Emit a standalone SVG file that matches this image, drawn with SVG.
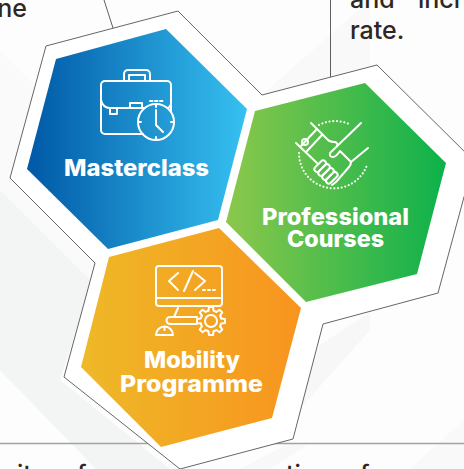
<svg xmlns="http://www.w3.org/2000/svg" xmlns:xlink="http://www.w3.org/1999/xlink" width="464" height="469" viewBox="0 0 464 469">
<style>
.lbl{font-family:"Inter","Liberation Sans",sans-serif;font-weight:800;font-size:23px;fill:#fff}
.body{font-family:"Inter","Liberation Sans",sans-serif;font-weight:500;font-size:25px;fill:#2e2723}
.ic{fill:none;stroke:#fff;stroke-width:2;stroke-linecap:round;stroke-linejoin:round}
.dot{fill:none;stroke:#fff;stroke-width:2.1;stroke-linecap:round;stroke-dasharray:.1 3.6}
.cn{fill:none;stroke:#5f5f5f;stroke-width:1}
</style>
<defs>
<linearGradient id="gb" x1="0" x2="1" y1="0" y2="0"><stop offset="0" stop-color="#0058a6"/><stop offset="1" stop-color="#36c1f1"/></linearGradient>
<linearGradient id="gg" x1="0" x2="1" y1="0" y2="0"><stop offset="0" stop-color="#8cc84b"/><stop offset="1" stop-color="#0db14b"/></linearGradient>
<linearGradient id="go" x1="0" x2="1" y1="0" y2="0"><stop offset="0" stop-color="#eeb927"/><stop offset="1" stop-color="#f8941f"/></linearGradient>
<path id="tooth" d="M-2.6,-10.2 L-2,-14 H2 L2.6,-10.2 A10.5,10.5 0 0 1 5.37,-9.05"/>
</defs>
<g id="background">
<rect width="464" height="469" fill="#fdfdfd"/>
<polygon points="0,50 100,150 100,290 0,190" fill="#fafafa"/>
<polygon points="0,190 92,282 60,380 170,469 96,469 0,370" fill="#f3f4f4"/>
<polygon points="262,95 330,35 370,0 370,66 330,77" fill="#f9f9f9"/>
<polygon points="320,345 370,312 370,330 290,420" fill="#f7f7f7"/>
<polygon points="410,469 464,420 464,469" fill="#f9f9f9"/>
<polygon points="240,469 290,443 310,443 270,469" fill="#f8f8f8"/>
</g>
<g id="page-text">
<text class="body" x="27" y="17" text-anchor="end">ne</text>
<text class="body" x="350" y="8">and</text>
<text class="body" x="418" y="8">incr</text>
<text class="body" x="350" y="39">rate.</text>
<text class="body" x="17" y="483">ity</text>
<text class="body" x="62" y="483">of</text>
<text class="body" x="286" y="483">tion</text>
<text class="body" x="345" y="483">of</text>
</g>
<g id="connectors">
<line x1="0" y1="443.5" x2="464" y2="443.5" stroke="#a3a3a3" stroke-width="1.6"/>
<line class="cn" x1="104" y1="0" x2="113" y2="28"/>
<line class="cn" x1="330.5" y1="0" x2="330.5" y2="77"/>
</g>
<g id="outline">
<polygon points="46,46 178,11 262,95 377,65 476,163 464,197 438,293 323,324 293,439 180,469 64,377 95,263 10,178" fill="#fff" stroke="#666" stroke-width="1"/>
</g>
<g id="masterclass">
<polygon points="56,59 166,29 247,109 218,220 108,249 27,169" fill="url(#gb)"/>
<g class="ic">
<path d="M142.6,134 H105 a4,4 0 0 1 -4,-4 V85 a4,4 0 0 1 4,-4 H167 a4,4 0 0 1 4,4 V112"/>
<path d="M124,81 V74 a4,4 0 0 1 4,-4 H146 a4,4 0 0 1 4,4 V81"/>
<path d="M129,81 V75 H145 V81"/>
<path d="M101,100 Q103,108 110,108 H145 M168,108 Q170,107 171,104"/>
<path d="M130,108 V103 H142 V108"/>
<path d="M110,108 V114 H117 V108"/>
<circle cx="156" cy="122" r="18"/>
<path d="M156,110 V125 L163,132"/>
<path d="M156,104 V107 M156,137 V140 M138,122 H141 M171,122 H174"/>
<path d="M150,101 H152.5 M155,101 H157.5 M160,101 H162.5"/>
</g>
<text class="lbl" x="64" y="176" textLength="145" lengthAdjust="spacingAndGlyphs">Masterclass</text>
</g>
<g id="professional-courses">
<polygon points="255,111 365,83 446,163 417,274 306,302 226,222" fill="url(#gg)"/>
<g class="ic">
<path d="M311,123 L328,140 Q330,142 335,142 Q338,143 337,146"/>
<path d="M296,143 L317,163"/>
<path d="M322,135 L307,151 M316,130 L301,146"/>
<path d="M361,123 L330,153 Q329,157 333,157 Q336,157 340,151 L351,162 L368,148"/>
<path d="M351,162 Q351,165 349,167 L336,182 L332,185"/>
<g transform="translate(326,172) rotate(45)">
<rect x="-11" y="-7" width="5.5" height="14" rx="2.7"/>
<rect x="-5.5" y="-7" width="5.5" height="14" rx="2.7"/>
<rect x="0" y="-7" width="5.5" height="14" rx="2.7"/>
<rect x="5.5" y="-7" width="5.5" height="14" rx="2.7"/>
</g>
<circle cx="305" cy="142" r="3"/>
</g>
<path class="dot" d="M319,125 A35,35 0 0 1 349,124"/>
<path class="dot" d="M299,153 A35,35 0 0 0 367,165"/>
<text class="lbl" x="262" y="225" textLength="147" lengthAdjust="spacingAndGlyphs">Professional</text>
<text class="lbl" x="287" y="247" textLength="97" lengthAdjust="spacingAndGlyphs">Courses</text>
</g>
<g id="mobility-programme">
<polygon points="109,257 219,228 301,308 272,418 161,447 81,367" fill="url(#go)"/>
<g class="ic">
<rect x="156" y="266" width="66" height="40" rx="3"/>
<path d="M156,298 H222"/>
<path d="M178,273 L169,281 L178,290 M193,271 L184,291 M195,273 L205,281 L195,290"/>
<path d="M203,290 H205 M208,290 H210 M213,290 H215"/>
<path d="M178,308 L174,317"/>
<path d="M197,317 H170 a3.5,3.5 0 0 0 0,7 H197"/>
<path d="M156,335 a8.5,8.5 0 0 1 17,0 Z M164.5,327 V330"/>
<circle cx="211" cy="321" r="6"/>
<g transform="translate(211,321)">
<use xlink:href="#tooth" href="#tooth"/>
<use xlink:href="#tooth" href="#tooth" transform="rotate(45)"/>
<use xlink:href="#tooth" href="#tooth" transform="rotate(90)"/>
<use xlink:href="#tooth" href="#tooth" transform="rotate(135)"/>
<use xlink:href="#tooth" href="#tooth" transform="rotate(180)"/>
<use xlink:href="#tooth" href="#tooth" transform="rotate(225)"/>
<use xlink:href="#tooth" href="#tooth" transform="rotate(270)"/>
<use xlink:href="#tooth" href="#tooth" transform="rotate(315)"/>
</g>
</g>
<text class="lbl" x="144" y="368" textLength="96" lengthAdjust="spacingAndGlyphs">Mobility</text>
<text class="lbl" x="120" y="392" textLength="143" lengthAdjust="spacingAndGlyphs">Programme</text>
</g>
</svg>
